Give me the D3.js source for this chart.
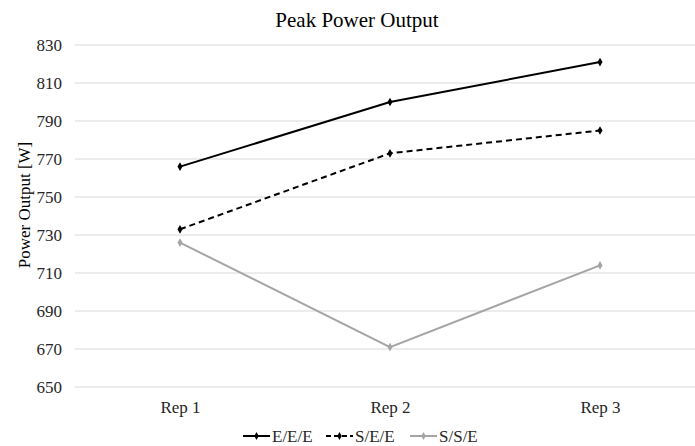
<!DOCTYPE html>
<html>
<head>
<meta charset="utf-8">
<script src="https://cdn.jsdelivr.net/npm/d3@7"></script>
<style>
  body { margin: 0; background: #fff; }
  svg text { font-family: "Liberation Serif", "Times New Roman", serif; }
</style>
</head>
<body>
<div id="grafico"></div>
<script>
// datos
var categorias = ["Rep 1", "Rep 2", "Rep 3"];
var serieEEE = [766, 800, 821];
var serieSEE = [733, 773, 785];
var serieSSE = [726, 671, 714];
var ticksY = [650, 670, 690, 710, 730, 750, 770, 790, 810, 830];

var series = [
  { nombre: "E/E/E", valores: serieEEE, color: "#000000", dash: null },
  { nombre: "S/E/E", valores: serieSEE, color: "#000000", dash: "6,4" },
  { nombre: "S/S/E", valores: serieSSE, color: "#a5a5a5", dash: null }
];

var ancho = 695, alto = 446;
var margin = { top: 45, bottom: 59, left: 75, right: -10 };
var w = ancho - margin.left - margin.right;
var h = alto - margin.top - margin.bottom;

var svg = d3.select("#grafico").append("svg")
  .attr("width", ancho).attr("height", alto);

var g = svg.append("g")
  .attr("transform", "translate(" + margin.left + "," + margin.top + ")");

var escalaX = d3.scalePoint().domain(categorias).range([0, w]).padding(0.5);
var escalaY = d3.scaleLinear().domain([650, 830]).range([h, 0]);

// lineas de cuadricula
g.selectAll(".grid").data(ticksY).enter().append("line")
  .attr("x1", 0).attr("x2", w)
  .attr("y1", d => escalaY(d)).attr("y2", d => escalaY(d))
  .style("stroke", "#d9d9d9").style("stroke-width", "1px");

// eje Y
var ejeY = g.append("g")
  .call(d3.axisLeft(escalaY).tickValues(ticksY).tickSize(0).tickPadding(13));
ejeY.select(".domain").remove();
ejeY.selectAll("text").style("font-size", "17px").style("fill", "#262626")
  .style("font-family", "'Liberation Serif', serif");

// eje X
var ejeX = g.append("g")
  .attr("transform", "translate(0," + h + ")")
  .call(d3.axisBottom(escalaX).tickSize(0).tickPadding(14));
ejeX.select(".domain").remove();
ejeX.selectAll("text").style("font-size", "17px").style("fill", "#262626")
  .style("font-family", "'Liberation Serif', serif");

// lineas
var linea = d3.line()
  .x((d, i) => escalaX(categorias[i]))
  .y(d => escalaY(d));

series.forEach(function(s) {
  g.append("path")
    .datum(s.valores)
    .attr("d", linea)
    .style("fill", "none")
    .style("stroke", s.color)
    .style("stroke-width", "2px")
    .style("stroke-dasharray", s.dash);
  g.selectAll(null).data(s.valores).enter().append("path")
    .attr("d", d3.symbol().type(d3.symbolDiamond).size(22))
    .attr("transform", (d, i) => "translate(" + escalaX(categorias[i]) + "," + escalaY(d) + ")")
    .style("fill", s.color);
});

// titulo
svg.append("text")
  .attr("x", 357).attr("y", 27)
  .attr("text-anchor", "middle")
  .style("font-size", "21px").style("fill", "#000")
  .text("Peak Power Output");

// titulo eje Y
svg.append("text")
  .attr("transform", "translate(30,205) rotate(-90)")
  .attr("text-anchor", "middle")
  .style("font-size", "17px").style("fill", "#000")
  .text("Power Output [W]");

// leyenda
var leyenda = svg.append("g").attr("transform", "translate(243,436)");
var posX = [0, 83, 167];
series.forEach(function(s, i) {
  var item = leyenda.append("g").attr("transform", "translate(" + posX[i] + ",0)");
  item.append("line")
    .attr("x1", 0).attr("x2", 27).attr("y1", 0).attr("y2", 0)
    .style("stroke", s.color).style("stroke-width", "2px")
    .style("stroke-dasharray", s.dash ? "5,3" : null);
  item.append("path")
    .attr("d", d3.symbol().type(d3.symbolDiamond).size(18))
    .attr("transform", "translate(13.5,0)")
    .style("fill", s.color);
  item.append("text")
    .attr("x", 29).attr("y", 6)
    .style("font-size", "17px").style("fill", "#262626")
    .text(s.nombre);
});
</script>
</body>
</html>
